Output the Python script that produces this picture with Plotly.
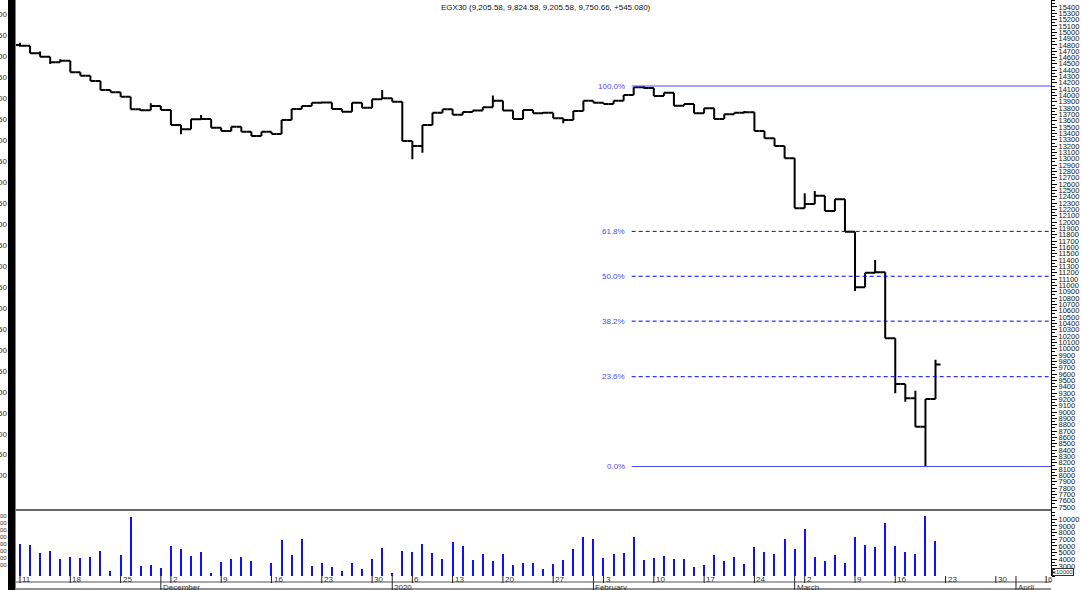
import datetime as dt
import plotly.graph_objects as go

# ---------------- data ----------------
holidays = ["2020-01-01", "2020-01-07", "2020-03-12"]
cal_start, cal_end = dt.date(2019, 11, 11), dt.date(2020, 4, 9)

opens = [14800, 14788, 14667, 14614, 14525, 14551, 14367, 14314, 14230, 14088,
         14051, 13982, 13783, 13767, 13835, 13772, 13535, 13467, 13625, 13630,
         13492, 13440, 13508, 13429, 13361, 13429, 13393, 13614, 13788, 13835,
         13887, 13890, 13788, 13745, 13887, 13808, 13940, 13956, 13903, 13282,
         13203, 13535, 13729, 13783, 13698, 13740, 13762, 13815, 13918, 13762,
         13631, 13772, 13719, 13729, 13640, 13614, 13757, 13918, 13887, 13866,
         13918, 14009, 14130, 14120, 13991, 14044, 13840, 13866, 13719, 13798,
         13631, 13703, 13729, 13735, 13440, 13325, 13203, 13009, 12219, 12287,
         12418, 12176, 12361, 11849, 10971, 11202, 11210, 10165, 9443, 9217,
         8769, 9205.58]
highs = [14835, 14788, 14694, 14614, 14573, 14551, 14367, 14314, 14230, 14088,
         14051, 13982, 13783, 13877, 13835, 13772, 13535, 13625, 13693, 13630,
         13492, 13508, 13508, 13429, 13429, 13429, 13614, 13788, 13835, 13887,
         13905, 13890, 13788, 13887, 13887, 13940, 14088, 13956, 13903, 13282,
         13535, 13729, 13783, 13783, 13740, 13762, 13815, 14001, 13918, 13762,
         13772, 13772, 13740, 13729, 13640, 13757, 13918, 13918, 13887, 13918,
         14009, 14130, 14150, 14120, 14044, 14044, 13866, 13866, 13798, 13798,
         13703, 13729, 13757, 13735, 13440, 13325, 13203, 13009, 12456, 12492,
         12418, 12361, 12361, 11849, 11202, 11402, 11210, 10165, 9443, 9337,
         9205.58, 9824.58]
lows = [14772, 14667, 14614, 14498, 14525, 14367, 14314, 14230, 14088, 14051,
        13982, 13783, 13755, 13767, 13772, 13535, 13388, 13467, 13625, 13492,
        13440, 13440, 13429, 13361, 13361, 13393, 13393, 13614, 13788, 13835,
        13880, 13788, 13745, 13745, 13808, 13808, 13940, 13903, 13282, 12993,
        13097, 13535, 13729, 13698, 13698, 13740, 13762, 13815, 13762, 13631,
        13631, 13719, 13719, 13640, 13561, 13614, 13757, 13887, 13866, 13866,
        13918, 14009, 14110, 13991, 13991, 13840, 13840, 13719, 13719, 13631,
        13631, 13703, 13729, 13440, 13325, 13203, 13009, 12219, 12219, 12287,
        12176, 12176, 11849, 10912, 10971, 11202, 10165, 9296, 9164, 8769,
        8140, 9205.58]
closes = [14788, 14667, 14614, 14525, 14551, 14367, 14314, 14230, 14088, 14051,
          13982, 13783, 13767, 13835, 13772, 13535, 13467, 13625, 13630, 13492,
          13440, 13508, 13429, 13361, 13429, 13393, 13614, 13788, 13835, 13887,
          13890, 13788, 13745, 13887, 13808, 13940, 13956, 13903, 13282, 13203,
          13535, 13729, 13783, 13698, 13740, 13762, 13815, 13918, 13762, 13631,
          13772, 13719, 13729, 13640, 13614, 13757, 13918, 13887, 13866, 13918,
          14009, 14130, 14120, 13991, 14044, 13840, 13866, 13719, 13798, 13631,
          13703, 13729, 13735, 13440, 13325, 13203, 13009, 12219, 12287, 12418,
          12176, 12361, 11849, 10971, 11202, 11210, 10165, 9443, 9217, 8769,
          9205.58, 9750.66]
volumes = [6300, 6100, 5000, 5200, 4050, 4350, 4250, 4400, 5300, 2300,
           4600, 10300, 3000, 3100, 2750, 6000, 5600, 4500, 5100, 2000,
           3600, 4050, 4400, 3800, 1400, 3500, 6900, 4700, 7000, 3000,
           3500, 2850, 2250, 3400, 2550, 4050, 5700, 2000, 5300, 5100,
           6300, 4900, 4050, 6600, 6000, 3900, 4800, 3800, 4800, 3200,
           3500, 3500, 2550, 3300, 3900, 5550, 7300, 7050, 4250, 4800,
           5000, 7400, 3900, 4200, 4500, 4050, 4100, 2850, 3100, 4700,
           3800, 4300, 3250, 5800, 5050, 4850, 7000, 5600, 8500, 4400,
           3750, 4700, 3450, 7400, 6150, 5900, 9500, 6000, 5100, 4850,
           10540, 6750]

fib_ratios = [1.0, 0.618, 0.5, 0.382, 0.236, 0.0]
fib_labels = ["100.0%", "61.8%", "50.0%", "38.2%", "23.6%", "0.0%"]
fib_solid = [True, False, False, False, False, True]
fib_swing_from = 60      # first bar of the swing measured by the retracement
fib_start = 60.8

price_ticks = list(range(7500, 15401, 100))
volume_ticks = list(range(3000, 10001, 1000))
title_text = "EGX30 (9,205.58, 9,824.58, 9,205.58, 9,750.66, +545.080)"
month_names = {12: "December", 1: "2020", 2: "February", 3: "March", 4: "April"}
left_cut_labels = ["00", "50"] * 12

# ---------------- calendar (trading days Sun-Thu) ----------------
calendar = []
d = cal_start
while d <= cal_end:
    if d.weekday() in (6, 0, 1, 2, 3) and d.isoformat() not in holidays:
        calendar.append(d)
    d += dt.timedelta(days=1)

n = len(closes)
x_idx = list(range(n))
bar_dates = [c.isoformat() for c in calendar[:n]]

monday_ticks = [(i, str(c.day)) for i, c in enumerate(calendar) if c.weekday() == 0 and i <= 102]
month_ticks = []
for i, c in enumerate(calendar):
    if i > 0 and c.month != calendar[i - 1].month:
        month_ticks.append((i, month_names[c.month]))

# ---------------- geometry helpers ----------------
W, H = 1081, 590
ML, MR, MT, MB = 16, 30, 0, 14
PW, PH = W - ML - MR, H - MT - MB
SEP = 510


def px(xp):
    return (xp - ML) / PW


def py(yp):
    return (PH + MT - yp) / PH


vol_top = py(SEP)
x_range = [-0.398, 102.48]

fig = go.Figure()
fig.add_trace(go.Ohlc(
    x=x_idx, open=opens, high=highs, low=lows, close=closes,
    text=bar_dates, hoverinfo="text+y",
    increasing=dict(line=dict(color="black", width=2)),
    decreasing=dict(line=dict(color="black", width=2)),
    tickwidth=0.5, xaxis="x", yaxis="y", showlegend=False,
))
fig.add_trace(go.Bar(
    x=x_idx, y=volumes, width=0.11, text=bar_dates, hoverinfo="text+y",
    textposition="none",
    marker=dict(color="#1010ff", line=dict(width=0)),
    xaxis="x2", yaxis="y2", showlegend=False,
))

axis_font = dict(family="Arial", size=7.5, color="#141414")
fig.update_layout(
    width=W, height=H,
    margin=dict(l=ML, r=MR, t=MT, b=MB),
    paper_bgcolor="white", plot_bgcolor="white",
    showlegend=False, bargap=0,
    xaxis=dict(domain=[0, 1], range=x_range, anchor="y", showticklabels=False,
               showgrid=False, zeroline=False, ticks="", rangeslider=dict(visible=False),
               showline=False),
    xaxis2=dict(domain=[0, 1], range=x_range, anchor="y2", matches="x",
                showticklabels=False, showgrid=False, zeroline=False, ticks="",
                showline=False),
    yaxis=dict(domain=[vol_top, 1], range=[7452.6, 15509], side="right",
               tickmode="array", tickvals=price_ticks, tickformat="d",
               ticks="outside", ticklen=5,
               tickcolor="black", showline=True, linecolor="black", linewidth=1,
               showgrid=False, zeroline=False, tickfont=axis_font,
               minor=dict(dtick=50, tick0=7450, ticks="outside", ticklen=3, tickcolor="black")),
    yaxis2=dict(domain=[0, vol_top], range=[1500, 11394], side="right",
                tickmode="array", tickvals=volume_ticks, tickformat="d",
                ticks="outside", ticklen=5,
                tickcolor="black", showline=True, linecolor="black", linewidth=1,
                showgrid=False, zeroline=False, tickfont=axis_font,
                minor=dict(dtick=500, tick0=0, ticks="outside", ticklen=3, tickcolor="black")),
)

shapes = []
annotations = []

# left thick black strip and cut-off axis labels
shapes.append(dict(type="rect", xref="paper", yref="paper", x0=px(8), x1=px(15.5),
                   y0=py(590), y1=py(0), fillcolor="black", line=dict(width=0), layer="above"))
for k, lab in enumerate(left_cut_labels[:23]):
    annotations.append(dict(xref="paper", yref="paper", x=px(8.5), y=py(15 + 20.95 * k),
                            text=lab, showarrow=False, xanchor="right", yanchor="middle",
                            font=dict(family="Arial", size=8, color="#3a2a10")))
for k in range(8):
    annotations.append(dict(xref="paper", yref="paper", x=px(8.5), y=py(516 + 7 * k),
                            text="00", showarrow=False, xanchor="right", yanchor="middle",
                            font=dict(family="Arial", size=6, color="#3a2a10")))

# panel separator, bottom axis lines
shapes.append(dict(type="line", xref="paper", yref="paper", x0=0, x1=1, y0=vol_top, y1=vol_top,
                   line=dict(color="#333333", width=1.5)))
shapes.append(dict(type="line", xref="paper", yref="paper", x0=0, x1=1, y0=py(582), y1=py(582),
                   line=dict(color="#a8a8a8", width=2)))
shapes.append(dict(type="line", xref="paper", yref="paper", x0=0, x1=1, y0=py(589), y1=py(589),
                   line=dict(color="#222222", width=1)))

# fibonacci retracement
fib_high = max(highs[fib_swing_from:])
fib_low = min(lows[fib_swing_from:])
for r, lab, solid in zip(fib_ratios, fib_labels, fib_solid):
    lvl = fib_low + r * (fib_high - fib_low)
    shapes.append(dict(type="line", xref="x", yref="y", x0=fib_start, x1=x_range[1], y0=lvl, y1=lvl,
                       line=dict(color="#4a4aff" if solid else "#0000ff", width=1,
                                 dash="solid" if solid else "4px,3px")))
    annotations.append(dict(xref="x", yref="y", x=fib_start, y=lvl, text=lab, showarrow=False,
                            xanchor="right", yanchor="middle", xshift=-5,
                            font=dict(family="Arial", size=8, color="#4a4aff")))

# date axis: weekly ticks + month ticks
for i, lab in monday_ticks:
    shapes.append(dict(type="line", xref="x", yref="paper", x0=i, x1=i, y0=py(576), y1=py(583),
                       line=dict(color="#222222", width=1)))
    annotations.append(dict(xref="x", yref="paper", x=i, y=py(579.5), text=lab, showarrow=False,
                            xanchor="left", yanchor="middle", xshift=0,
                            font=dict(family="Arial", size=8, color="#333333")))
for i, lab in month_ticks:
    shapes.append(dict(type="line", xref="x", yref="paper", x0=i, x1=i, y0=py(576), y1=py(590),
                       line=dict(color="#222222", width=1)))
    annotations.append(dict(xref="x", yref="paper", x=i, y=py(587), text=lab, showarrow=False,
                            xanchor="left", yanchor="middle", xshift=0,
                            font=dict(family="Arial", size=8, color="#333333")))

# title
annotations.append(dict(xref="paper", yref="paper", x=px(546), y=py(7), text=title_text,
                        showarrow=False, xanchor="center", yanchor="middle",
                        font=dict(family="Arial", size=8, color="#111111")))
# volume multiplier box
annotations.append(dict(xref="paper", yref="paper", x=px(1052), y=py(572), text="x10000",
                        showarrow=False, xanchor="left", yanchor="middle",
                        font=dict(family="Arial", size=6, color="#333333"),
                        bordercolor="#333333", borderwidth=1, borderpad=0))

fig.update_layout(shapes=shapes, annotations=annotations)
fig.write_html("out.html", config={"displayModeBar": False},
               post_script="document.body.style.margin='0';document.body.style.overflow='hidden';")
